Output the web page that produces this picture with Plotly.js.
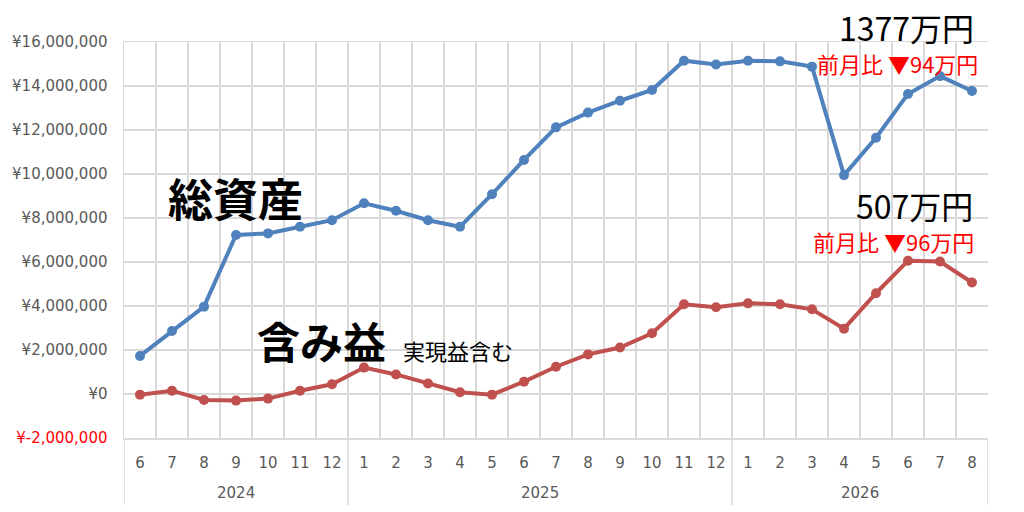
<!DOCTYPE html>
<html>
<head>
<meta charset="utf-8">
<script src="https://cdn.plot.ly/plotly-3.0.1.min.js"></script>
<style>html,body{margin:0;padding:0;background:#fff;}#chart{width:1024px;height:512px;}</style>
</head>
<body>
<div id="chart"></div>
<script>
// Data
var years  = ["2024","2024","2024","2024","2024","2024","2024",
              "2025","2025","2025","2025","2025","2025","2025","2025","2025","2025","2025","2025",
              "2026","2026","2026","2026","2026","2026","2026","2026"];
var months = ["6","7","8","9","10","11","12",
              "1","2","3","4","5","6","7","8","9","10","11","12",
              "1","2","3","4","5","6","7","8"];
var totalAssets = [1730000,2860000,3970000,7230000,7300000,7600000,7900000,
                   8670000,8330000,7900000,7600000,9080000,10640000,12120000,12790000,13330000,13820000,15150000,14980000,
                   15150000,15120000,14880000,9950000,11650000,13640000,14450000,13770000];
var unrealized  = [-30000,150000,-270000,-300000,-210000,150000,440000,
                   1200000,890000,480000,80000,-30000,560000,1240000,1800000,2110000,2760000,4080000,3940000,
                   4120000,4080000,3850000,2970000,4580000,6060000,6020000,5070000];
var yTickVals = [-2000000,0,2000000,4000000,6000000,8000000,10000000,12000000,14000000,16000000];
var yTickText = ['<span style="color:#ff0000">¥-2,000,000</span>','¥0','¥2,000,000','¥4,000,000','¥6,000,000',
                 '¥8,000,000','¥10,000,000','¥12,000,000','¥14,000,000','¥16,000,000'];

var xCats = years.map(function(y, i){ return y + '-' + months[i]; });

// year groups (derived from the arrays)
var groups = [];
years.forEach(function(y, i){
  if (!groups.length || groups[groups.length-1].year !== y) groups.push({year:y, start:i, end:i});
  else groups[groups.length-1].end = i;
});

var blue = '#4f81bd', red = '#c0504d', grid = '#d9d9d9';
var traces = [
  {x:xCats, y:totalAssets, type:'scatter', mode:'lines+markers', name:'総資産',
   line:{color:blue,width:4}, marker:{color:blue,size:10}},
  {x:xCats, y:unrealized, type:'scatter', mode:'lines+markers', name:'含み益',
   line:{color:red,width:4}, marker:{color:red,size:10}}
];
var jp = '"Noto Sans CJK JP", sans-serif';
var dividerDepth = 67/396;
var shapes = [];
var annotations = [];
groups.forEach(function(g, k){
  if (k === 0) shapes.push({type:'line', xref:'x', yref:'paper', x0:g.start-0.5, x1:g.start-0.5, y0:0, y1:-dividerDepth,
                            line:{color:grid, width:1.5}});
  shapes.push({type:'line', xref:'x', yref:'paper', x0:g.end+0.5, x1:g.end+0.5, y0:0, y1:-dividerDepth,
               line:{color:grid, width:1.5}});
  annotations.push({xref:'x', yref:'paper', x:(g.start+g.end)/2, y:-(493-438)/396, xanchor:'center', yanchor:'middle',
                    showarrow:false, text:g.year, font:{family:'"DejaVu Sans", Verdana, sans-serif', size:15, color:'#595959'}});
});
annotations = annotations.concat([
    {xref:'paper', yref:'paper', x:(976-124)/864, y:(438-27)/396, xanchor:'right', yanchor:'middle', showarrow:false,
     text:'1377万円', font:{family:jp, size:32, color:'#000'}},
    {xref:'paper', yref:'paper', x:(980-124)/864, y:(438-63)/396, xanchor:'right', yanchor:'middle', showarrow:false,
     text:'前月比 ▼94万円', font:{family:jp, size:22, color:'#ff0000'}},
    {xref:'paper', yref:'paper', x:(975-124)/864, y:(438-205)/396, xanchor:'right', yanchor:'middle', showarrow:false,
     text:'507万円', font:{family:jp, size:32, color:'#000'}},
    {xref:'paper', yref:'paper', x:(976-124)/864, y:(438-241)/396, xanchor:'right', yanchor:'middle', showarrow:false,
     text:'前月比 ▼96万円', font:{family:jp, size:22, color:'#ff0000'}},
    {xref:'paper', yref:'paper', x:(166-124)/864, y:(438-197)/396, xanchor:'left', yanchor:'middle', showarrow:false,
     text:'<b>総資産</b>', font:{family:jp, size:45, color:'#000'}},
    {xref:'paper', yref:'paper', x:(255-124)/864, y:(438-340)/396, xanchor:'left', yanchor:'middle', showarrow:false,
     text:'<b>含み益</b>', font:{family:jp, size:43, color:'#000'}},
    {xref:'paper', yref:'paper', x:(401-124)/864, y:(438-350)/396, xanchor:'left', yanchor:'middle', showarrow:false,
     text:'実現益含む', font:{family:jp, size:22, color:'#000'}}
]);
var layout = {
  width:1024, height:512,
  margin:{l:124, r:36, t:42, b:74},
  paper_bgcolor:'#fff', plot_bgcolor:'#fff',
  showlegend:false,
  font:{family:'"DejaVu Sans", Verdana, sans-serif', color:'#595959', size:15},
  xaxis:{type:'category', range:[-0.5, xCats.length-0.5], tickvals:xCats, ticktext:months,
         tickson:'boundaries', showgrid:true, gridcolor:grid, gridwidth:1.5,
         showline:true, linecolor:grid, linewidth:1.5, mirror:true,
         ticks:'', tickfont:{size:15, color:'#595959'}, ticklabelstandoff:10},
  yaxis:{range:[-2000000,16000000], tickvals:yTickVals, ticktext:yTickText, showgrid:true,
         gridcolor:grid, gridwidth:1.5, zeroline:false, showline:true, linecolor:grid, linewidth:1.5,
         ticks:'', tickfont:{size:15, color:'#595959'}, ticklabelstandoff:12},
  shapes:shapes,
  annotations:annotations
};
Plotly.newPlot('chart', traces, layout, {staticPlot:true, displayModeBar:false});
</script>
</body>
</html>
